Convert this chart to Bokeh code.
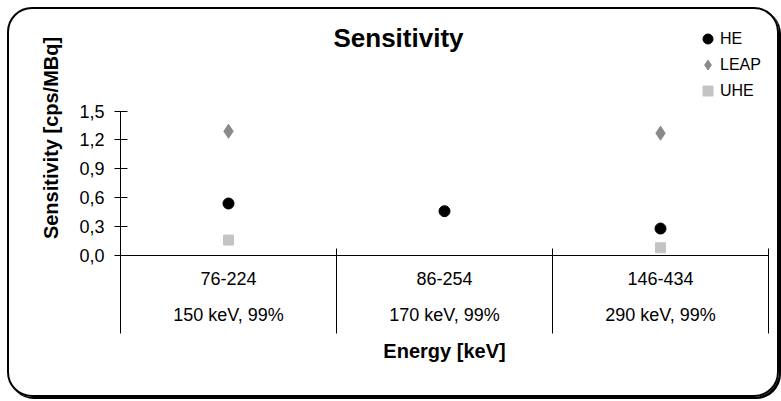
from bokeh.plotting import figure
from bokeh.models import (Range1d, FixedTicker, LinearAxis, CustomJSTickFormatter,
                          Legend, LegendItem, Label)
from bokeh.embed import file_html
from bokeh.resources import INLINE

# ---- data ----
title_text = "Sensitivity"
categories = ["76-224", "86-254", "146-434"]
peaks = ["150 keV, 99%", "170 keV, 99%", "290 keV, 99%"]
he = [0.54, 0.46, 0.28]
leap = [1.29, None, 1.27]
uhe = [0.16, None, 0.08]
y_ticks = [0.0, 0.3, 0.6, 0.9, 1.2, 1.5]
series_names = ["HE", "LEAP", "UHE"]

FONT = "Liberation Sans"

# ---- layout (canvas pixels) ----
W, H = 768, 386
B_LEFT, B_RIGHT, B_TOP, B_BOTTOM = 111, 13, 11, 144
AXIS_TOP = 100          # pixel row of the highest y tick
frame_h = H - B_TOP - B_BOTTOM
axis_h = H - B_BOTTOM - AXIS_TOP
y_top = y_ticks[-1] * frame_h / axis_h   # free room above the axis for title and legend

n = len(categories)
x_centers = [i + 0.5 for i in range(n)]
x_bounds = [float(i) for i in range(n + 1)]

p = figure(width=W, height=H,
           x_range=Range1d(0, n), y_range=Range1d(y_ticks[0], y_top),
           x_axis_type=None, y_axis_type=None, title_location=None,
           output_backend="svg", toolbar_location=None,
           min_border_left=B_LEFT, min_border_right=B_RIGHT,
           min_border_top=B_TOP, min_border_bottom=B_BOTTOM)
p.outline_line_color = None
p.border_fill_color = None
p.background_fill_color = None
p.styles = {"border": "2px solid black", "border-radius": "25px",
            "box-shadow": "2px 2px 0 0 black", "box-sizing": "content-box",
            "margin": "7px 0 0 7px"}

# y axis
yaxis = LinearAxis(ticker=FixedTicker(ticks=y_ticks, minor_ticks=[]),
                   formatter=CustomJSTickFormatter(code="return tick.toFixed(1).replace('.', ',')"),
                   axis_label="Sensitivity [cps/MBq]",
                   bounds=(y_ticks[0], y_ticks[-1]))
yaxis.major_tick_in = 7
yaxis.major_tick_out = 6
yaxis.minor_tick_line_color = None
yaxis.axis_line_color = "black"
yaxis.major_tick_line_color = "black"
yaxis.major_label_text_font = FONT
yaxis.major_label_text_font_size = "18px"
yaxis.major_label_text_color = "black"
yaxis.major_label_standoff = 10
yaxis.axis_label_text_font = FONT
yaxis.axis_label_text_font_size = "20px"
yaxis.axis_label_text_font_style = "bold"
yaxis.axis_label_text_color = "black"
yaxis.axis_label_standoff = 14
p.add_layout(yaxis, "left")

# x axis (category labels, separators as minor ticks)
SEP_OUT = 78
xaxis = LinearAxis(ticker=FixedTicker(ticks=x_centers, minor_ticks=x_bounds),
                   formatter=CustomJSTickFormatter(
                       args=dict(cats=categories, peaks=peaks),
                       code="const i = Math.round(tick - 0.5); return cats[i] + '\\n' + peaks[i];"),
                   axis_label="Energy [keV]")
xaxis.major_tick_line_color = None
xaxis.major_tick_in = 0
xaxis.major_tick_out = 0
xaxis.minor_tick_line_color = "black"
xaxis.minor_tick_in = 7
xaxis.minor_tick_out = SEP_OUT
xaxis.axis_line_color = "black"
xaxis.major_label_text_font = FONT
xaxis.major_label_text_font_size = "18px"
xaxis.major_label_text_color = "black"
xaxis.major_label_text_line_height = 1.84
xaxis.major_label_standoff = 13 - SEP_OUT
xaxis.axis_label_text_font = FONT
xaxis.axis_label_text_font_size = "20px"
xaxis.axis_label_text_font_style = "bold"
xaxis.axis_label_text_color = "black"
xaxis.axis_label_standoff = 12
p.add_layout(xaxis, "below")

# title
p.add_layout(Label(x=278, y=218, x_units="screen", y_units="screen",
                   text=title_text, text_align="center", text_baseline="middle",
                   text_font=FONT, text_font_size="26px", text_font_style="bold",
                   text_color="black"))

# series
def pts(vals):
    xs = [x for x, v in zip(x_centers, vals) if v is not None]
    ys = [v for v in vals if v is not None]
    return xs, ys

xs, ys = pts(he)
r_he = p.scatter(xs, ys, marker="circle", size=11, fill_color="black", line_color="black")
xs, ys = pts(leap)
r_leap = p.scatter(xs, ys, marker="diamond", size=14, fill_color="#8a8a8a", line_color="#8a8a8a")
xs, ys = pts(uhe)
r_uhe = p.scatter(xs, ys, marker="square", size=10, fill_color="#c4c4c4", line_color="#c4c4c4")

legend = Legend(items=[LegendItem(label=series_names[0], renderers=[r_he]),
                       LegendItem(label=series_names[1], renderers=[r_leap]),
                       LegendItem(label=series_names[2], renderers=[r_uhe])],
                location=(575, 152), orientation="vertical",
                glyph_width=25, glyph_height=25, label_height=25,
                label_standoff=-8, spacing=1, padding=0, margin=0,
                border_line_color=None, background_fill_alpha=0,
                label_text_font=FONT, label_text_font_size="16px",
                label_text_color="black")
p.add_layout(legend)

open("out.html", "w").write(file_html(p, INLINE))
